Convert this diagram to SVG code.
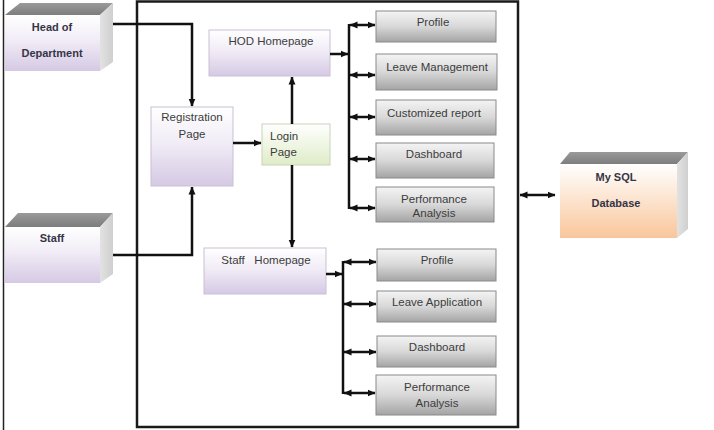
<svg xmlns="http://www.w3.org/2000/svg" width="714" height="430" viewBox="0 0 714 430">
<defs>
<linearGradient id="gPurple" x1="0" y1="0" x2="0" y2="1"><stop offset="0" stop-color="#ffffff"/><stop offset="0.45" stop-color="#f1ecf6"/><stop offset="1" stop-color="#d5c9e4"/></linearGradient>
<linearGradient id="gGreen" x1="0" y1="0" x2="0" y2="1"><stop offset="0" stop-color="#ffffff"/><stop offset="1" stop-color="#dfecc8"/></linearGradient>
<linearGradient id="gGrey" x1="0" y1="0" x2="0" y2="1"><stop offset="0" stop-color="#f4f4f4"/><stop offset="0.5" stop-color="#d8d8d8"/><stop offset="1" stop-color="#a4a4a4"/></linearGradient>
<linearGradient id="gPeach" x1="0" y1="0" x2="0" y2="1"><stop offset="0" stop-color="#ffffff"/><stop offset="1" stop-color="#f9c69b"/></linearGradient>
<linearGradient id="gTop" x1="0" y1="0" x2="0" y2="1"><stop offset="0" stop-color="#9a9a9a"/><stop offset="1" stop-color="#7d7d7d"/></linearGradient>
<linearGradient id="gSide" x1="0" y1="0" x2="1" y2="0"><stop offset="0" stop-color="#e2e2e2"/><stop offset="1" stop-color="#cfcfcf"/></linearGradient>
<marker id="ah" viewBox="0 0 8 8" refX="7.5" refY="4" markerWidth="8" markerHeight="8" markerUnits="userSpaceOnUse" orient="auto-start-reverse"><path d="M0,0.5 L8,4 L0,7.5 z" fill="#111"/></marker>
</defs>
<style>
.t{font-family:"Liberation Sans",Arial,sans-serif;font-size:11.5px;fill:#3c3c3c;text-anchor:middle}
.b{font-family:"Liberation Sans",Arial,sans-serif;font-size:11px;font-weight:bold;fill:#353548;text-anchor:middle}
.pb{fill:url(#gPurple);stroke:#c9c0d4;stroke-width:1}
.gb{fill:url(#gGrey);stroke:#8a8a8a;stroke-width:1}
.top{fill:url(#gTop)}
.side{fill:url(#gSide)}
.ln{fill:none;stroke:#111;stroke-width:2.5}
.a1{marker-end:url(#ah)}
.a2{marker-start:url(#ah);marker-end:url(#ah)}
</style>
<rect width="714" height="430" fill="#ffffff"/>
<line x1="3.5" y1="0" x2="3.5" y2="430" stroke="#222" stroke-width="1.5"/>
<rect x="137" y="1.5" width="381" height="425.5" fill="none" stroke="#1a1a1a" stroke-width="2.5"/>

<g id="hod">
<polygon class="top" points="5,15 20,3 113,3 100,15"/>
<polygon class="side" points="100,15 113,3 113,62 100,71"/>
<rect x="5" y="15" width="95" height="56" fill="url(#gPurple)"/>
<text class="b" x="52" y="31">Head of</text>
<text class="b" x="52" y="57">Department</text>
</g>
<g id="staff">
<polygon class="top" points="5,227 18,213 113,213 100,227"/>
<polygon class="side" points="100,227 113,213 113,274 100,283"/>
<rect x="5" y="227" width="95" height="56" fill="url(#gPurple)"/>
<text class="b" x="52" y="242">Staff</text>
</g>
<g id="mysql">
<polygon class="top" points="560,164 570,152 688,152 677,164"/>
<polygon class="side" points="677,164 688,152 688,229 677,238"/>
<rect x="560" y="164" width="117" height="74" fill="url(#gPeach)"/>
<text class="b" x="616" y="181">My SQL</text>
<text class="b" x="616" y="207">Database</text>
</g>

<g id="registration"><rect class="pb" x="151" y="107" width="82" height="79"/><text class="t" x="192" y="121">Registration</text><text class="t" x="192" y="138">Page</text></g>
<g id="login"><rect x="262" y="124" width="68" height="41" fill="url(#gGreen)" stroke="#c8d4b8" stroke-width="1"/><text class="t" x="270" y="140" style="text-anchor:start">Login</text><text class="t" x="270" y="156" style="text-anchor:start">Page</text></g>
<g id="hod-homepage"><rect class="pb" x="209" y="30" width="121" height="46"/><text class="t" x="271" y="45">HOD Homepage</text></g>
<g id="staff-homepage"><rect class="pb" x="204" y="248" width="122" height="46"/><text class="t" x="266" y="264" xml:space="preserve">Staff   Homepage</text></g>

<g id="hod-profile"><rect class="gb" x="376" y="11" width="120" height="31"/><text class="t" x="433" y="26">Profile</text></g>
<g id="hod-leave"><rect class="gb" x="376" y="54" width="121" height="36"/><text class="t" x="437" y="71">Leave Management</text></g>
<g id="hod-report"><rect class="gb" x="376" y="100" width="120" height="35"/><text class="t" x="434" y="117">Customized report</text></g>
<g id="hod-dashboard"><rect class="gb" x="376" y="143" width="118" height="35"/><text class="t" x="434" y="158">Dashboard</text></g>
<g id="hod-performance"><rect class="gb" x="376" y="187" width="118" height="35"/><text class="t" x="434" y="203">Performance</text><text class="t" x="434" y="217">Analysis</text></g>

<g id="staff-profile"><rect class="gb" x="377" y="249" width="119" height="32"/><text class="t" x="437" y="264">Profile</text></g>
<g id="staff-leave"><rect class="gb" x="377" y="291" width="119" height="31"/><text class="t" x="437" y="306">Leave Application</text></g>
<g id="staff-dashboard"><rect class="gb" x="377" y="336" width="119" height="31"/><text class="t" x="437" y="351">Dashboard</text></g>
<g id="staff-performance"><rect class="gb" x="376" y="375" width="120" height="40"/><text class="t" x="437" y="391">Performance</text><text class="t" x="437" y="407">Analysis</text></g>

<g id="connectors">
<path class="ln a1" d="M113,24 H192 V106"/>
<path class="ln a1" d="M113,255 H192 V187"/>
<path class="ln a1" d="M233,143 H261"/>
<path class="ln a1" d="M292,124 V77"/>
<path class="ln a1" d="M292,165 V247"/>
<path class="ln a1" d="M330,54 H348"/>
<path class="ln" d="M349,24 V209"/>
<path class="ln a2" d="M350,25 H375"/>
<path class="ln a2" d="M350,75 H375"/>
<path class="ln a2" d="M350,117 H375"/>
<path class="ln a2" d="M350,159 H375"/>
<path class="ln a2" d="M350,208 H375"/>
<path class="ln a1" d="M326,274 H342"/>
<path class="ln" d="M343,261 V394"/>
<path class="ln a2" d="M344,262 H376"/>
<path class="ln a2" d="M344,304 H376"/>
<path class="ln a2" d="M344,352 H376"/>
<path class="ln a2" d="M344,393 H375"/>
<path class="ln a2" d="M520,195 H555"/>
</g>
</svg>
